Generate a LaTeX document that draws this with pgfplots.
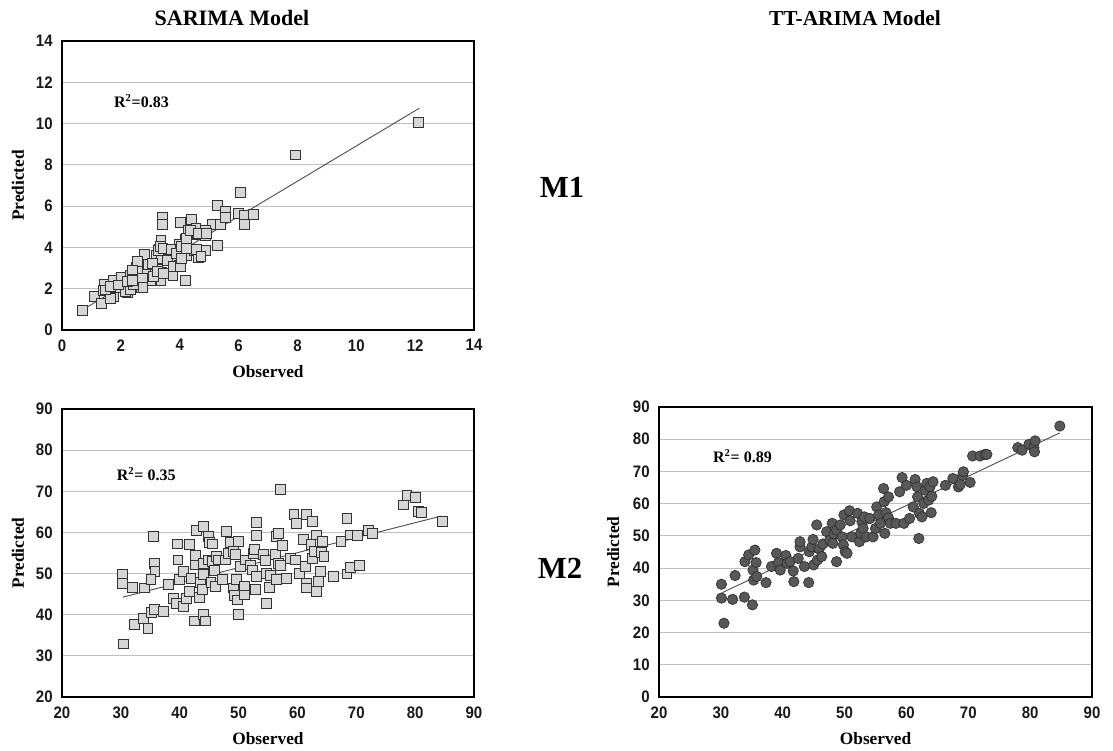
\documentclass[border=0pt]{standalone}
\usepackage{fontspec}
\setmainfont{Liberation Serif}
\newfontfamily\tickfont[FakeStretch=0.9]{Liberation Sans}
\usepackage{pgfplots}
\pgfplotsset{compat=1.18}
\definecolor{gridc}{HTML}{BFBFBF}
\definecolor{sqfill}{HTML}{D6D6D6}
\definecolor{sqdraw}{HTML}{333333}
\definecolor{cfill}{HTML}{585858}
\definecolor{cdraw}{HTML}{303030}
\definecolor{trend}{HTML}{505050}
\tikzset{rlab/.style={font=\bfseries\fontsize{12}{12}\selectfont}}
\pgfplotsset{
  panel/.style={
    scale only axis, anchor=south west,
    axis line style={black, line width=0.9pt},
    ymajorgrids, major grid style={gridc, line width=0.9pt},
    major tick length=0pt,
    /pgf/number format/assume math mode=true,
    tick label style={font=\tickfont\bfseries\fontsize{12.5}{12.5}\selectfont, text=black!90},
    xticklabel style={yshift=-3.5pt},
    yticklabel style={xshift=-3.5pt},
    xlabel={Observed}, ylabel={Predicted},
    label style={font=\bfseries\fontsize{13}{13}\selectfont},
    xlabel style={at={(axis description cs:0.5,-0.145)}, anchor=center},
    ylabel style={at={(axis description cs:-0.107,0.5)}, anchor=center},
    clip=false,
  },
  sq/.style={only marks, mark=square*, mark size=3.7pt, mark options={fill=sqfill, draw=sqdraw, line width=0.65pt}},
  ci/.style={only marks, mark=*, mark size=3.9pt, mark options={fill=cfill, draw=cdraw, line width=0.5pt}},
  tr/.style={no marks, draw=trend, line width=0.7pt},
}
\begin{document}
\begin{tikzpicture}
\path (0,0) rectangle (834.75pt,562.5pt);
\node[font=\bfseries\fontsize{16.5}{16.5}\selectfont] at (174pt,549pt) {SARIMA Model};
\node[font=\bfseries\fontsize{16}{16}\selectfont] at (641.25pt,549pt) {TT-ARIMA Model};
\node[font=\bfseries\fontsize{23}{23}\selectfont] at (421.5pt,422.25pt) {M1};
\node[font=\bfseries\fontsize{23}{23}\selectfont] at (420pt,136.5pt) {M2};

% SARIMA M1
\begin{axis}[panel, at={(46.5pt,315pt)}, width=309pt, height=216.75pt,
  xmin=0, xmax=14, ymin=0, ymax=14, xtick={0,2,...,14}, ytick={0,2,...,14}]
\addplot[sq] coordinates {
(12.11,10.04) (7.92,8.48)
(0.70,0.94) (1.09,1.61) (1.34,1.29) (1.45,2.23) (1.40,1.90) (1.76,1.61) (1.76,2.39) (1.86,2.06)
(2.02,2.55) (2.22,1.82) (2.28,2.23) (2.33,2.63) (2.53,3.03) (2.59,2.39) (2.69,2.06) (2.79,3.68)
(2.84,2.79) (2.93,3.19) (3.00,2.39) (3.21,3.60) (3.26,2.95) (3.31,3.92) (3.36,4.32) (3.36,3.44)
(3.36,2.39) (3.39,2.79) (3.41,5.45) (3.41,5.13) (3.67,3.92) (3.77,2.63) (3.77,3.44) (3.98,3.11)
(4.03,5.21) (4.19,2.39) (4.19,4.40) (4.24,3.60) (4.40,5.37) (4.29,4.81) (4.50,3.84) (4.60,4.65)
(4.65,3.52) (4.86,3.84) (4.86,4.56) (5.12,5.13) (5.27,4.08) (5.27,6.05) (5.38,5.13) (5.55,5.77)
(5.55,5.45) (6.00,5.65) (6.05,6.66) (6.20,5.53) (6.20,5.13) (6.51,5.61) (4.55,4.94) (4.86,4.81)
(3.98,4.16) (3.57,3.92)
(1.64,1.53) (1.47,1.94) (2.15,1.86) (2.32,1.94) (2.43,2.18) (2.55,3.31) (2.55,2.83) (2.72,2.50)
(2.75,2.07) (3.06,3.23) (3.11,2.58) (3.23,2.83) (3.28,3.84) (3.34,4.04) (3.43,3.96) (3.45,2.75)
(3.57,3.39) (3.70,3.91) (3.79,3.07) (3.90,3.71) (4.02,3.07) (4.07,3.47) (4.07,4.04) (4.24,3.96)
(4.24,4.44) (4.36,4.84) (4.58,3.91) (4.64,4.68) (4.72,3.58) (4.92,4.68) (1.64,2.13) (1.92,2.18)
(2.21,2.34) (2.38,2.42) (2.38,2.91)
};
\addplot[tr] coordinates {(0.75,1.02) (12.14,10.74)};
\node[rlab] at (axis cs:2.7,11.09) {R\textsuperscript{2}=0.83};
\end{axis}

% SARIMA M2
\begin{axis}[panel, at={(46.5pt,39.75pt)}, width=309pt, height=216pt,
  xmin=20, xmax=90, ymin=20, ymax=90, xtick={20,30,...,90}, ytick={20,30,...,90}]
\addplot[sq] coordinates {
(30.3,49.9) (30.3,47.7) (30.5,32.9) (31.9,46.6) (32.3,37.6) (34.0,46.5) (33.9,39.2) (34.6,36.6)
(35.2,40.6) (35.7,41.2) (35.6,59.0) (35.7,52.5) (35.8,50.5) (35.1,48.5) (37.3,40.8) (38.1,47.3)
(39.0,44.0) (39.4,42.8) (39.7,53.3) (39.6,57.2) (39.9,48.5) (40.7,50.5) (40.7,42.0) (41.1,43.9)
(41.6,45.7) (41.6,57.0) (41.9,48.9) (42.5,38.5) (42.6,52.1) (42.6,54.4) (42.8,60.4) (43.3,44.2)
(43.5,47.9) (43.8,46.1) (44.0,61.4) (44.0,49.7) (44.1,40.0) (44.1,52.5) (44.4,38.5) (44.9,59.0)
(44.9,53.3) (45.1,57.5) (45.3,47.8) (45.5,52.9) (45.6,57.2) (45.9,50.8) (46.0,46.9) (46.3,54.2)
(46.6,53.3) (47.2,48.5) (47.7,53.3) (48.0,60.2) (48.3,55.0) (48.6,57.5) (49.1,55.3) (49.1,46.5)
(49.3,44.6) (49.4,54.7) (49.7,48.6) (49.8,43.6) (50.0,40.0) (50.0,57.8) (50.3,51.7) (51.0,46.9)
(51.0,44.8) (51.1,53.3) (52.0,52.1) (52.3,50.9) (52.5,55.0) (52.7,55.8) (52.8,46.1) (53.0,49.3)
(53.1,62.5) (53.1,59.2) (54.2,54.6) (54.5,53.2) (54.8,50.1) (54.8,42.8) (55.3,46.7) (55.4,49.5)
(56.2,54.6) (56.4,48.6) (56.4,59.0) (56.8,59.8) (56.8,52.5) (57.1,52.0) (57.1,70.5) (57.4,56.8)
(58.2,48.9) (58.8,53.7) (59.4,64.3) (59.6,53.3) (59.8,62.2) (60.3,50.1) (61.0,58.2) (61.3,51.7)
(61.6,64.3) (61.6,47.7) (61.6,46.5) (62.3,57.0) (62.6,53.7) (62.6,62.6) (62.9,55.4) (63.2,59.4)
(63.2,45.7) (63.6,48.1) (63.9,50.5) (64.1,55.1) (64.3,57.8) (64.5,54.1) (66.1,49.3) (67.4,57.8)
(68.4,63.3) (68.4,49.9) (69.0,51.5) (69.0,59.4) (70.2,59.2) (70.5,52.0) (72.1,60.5) (72.8,59.7)
(78.0,66.7) (78.6,68.9) (80.0,68.6) (80.6,65.1) (81.0,64.9) (84.6,62.6)
};
\addplot[tr] coordinates {(30.36,44.28) (84.5,64.0)};
\node[rlab] at (axis cs:34.3,74.1) {R\textsuperscript{2}= 0.35};
\end{axis}

% TT-ARIMA M2
\begin{axis}[panel, at={(494.25pt,39.75pt)}, width=324.75pt, height=217.5pt,
  xmin=20, xmax=90, ymin=0, ymax=90, xtick={20,30,...,90}, ytick={0,10,...,90},
  ylabel style={at={(axis description cs:-0.106,0.5)}, anchor=center}]
\addplot[ci] coordinates {
(30.1,35.0) (30.1,30.7) (30.5,22.9) (31.9,30.3) (32.3,37.7) (33.8,31.0) (33.9,42.0) (34.5,44.1)
(35.1,28.6) (35.2,39.4) (35.5,45.6) (35.7,41.7) (35.3,36.3) (35.8,37.4) (37.3,35.5) (38.2,40.5)
(39.0,44.6) (39.3,41.7) (39.6,39.4) (40.5,43.9) (40.7,41.5) (41.2,42.0) (41.7,39.1) (41.8,35.8)
(42.5,43.0) (42.8,46.6) (42.8,48.2) (43.5,40.5) (44.2,35.5) (44.3,45.1) (44.7,46.6) (44.9,48.9)
(45.0,41.0) (45.5,53.4) (45.6,42.5) (45.9,45.9) (46.3,43.6) (46.5,47.5) (47.1,51.3) (47.6,48.7)
(48.0,53.9) (48.1,47.7) (48.3,50.6) (48.7,42.0) (48.7,51.8) (49.3,53.4) (49.6,49.7) (49.8,47.2)
(50.1,45.1) (50.4,44.6) (49.9,56.5) (50.8,57.8) (50.9,54.7) (51.2,49.7) (52.1,57.0) (52.4,48.2)
(52.6,50.8) (52.8,54.4) (53.0,52.3) (53.2,55.9) (53.5,49.7) (54.1,55.4) (54.6,49.7) (55.0,52.3)
(55.2,59.0) (55.5,56.5) (55.8,53.9) (56.3,64.7) (56.4,60.6) (56.5,50.8) (56.7,57.2) (57.1,62.1)
(57.1,55.6) (57.4,53.9) (58.3,53.9) (58.9,63.7) (59.3,68.1) (59.6,53.9) (60.0,65.7) (60.5,55.4)
(61.1,59.0) (61.4,67.5) (61.7,65.2) (61.8,62.1) (62.0,49.2) (62.1,57.0) (62.5,55.9) (62.8,60.1)
(63.0,64.2) (63.3,66.3) (63.6,61.1) (63.8,65.2) (64.0,57.2) (64.1,62.3) (64.3,66.8) (66.3,65.7)
(67.5,67.8) (68.4,65.2) (68.7,66.0) (69.1,68.8) (69.2,69.9) (70.3,66.6) (70.7,74.8) (71.9,74.8)
(72.7,75.3) (73.0,75.3) (78.0,77.4) (78.7,76.6) (79.8,78.4) (80.6,77.4) (80.8,79.5) (80.7,76.1)
(84.8,84.1)
};
\addplot[tr] coordinates {(30.25,32.4) (84.77,81.95)};
\node[rlab] at (axis cs:33.5,74.8) {R\textsuperscript{2}= 0.89};
\end{axis}
\end{tikzpicture}
\end{document}
